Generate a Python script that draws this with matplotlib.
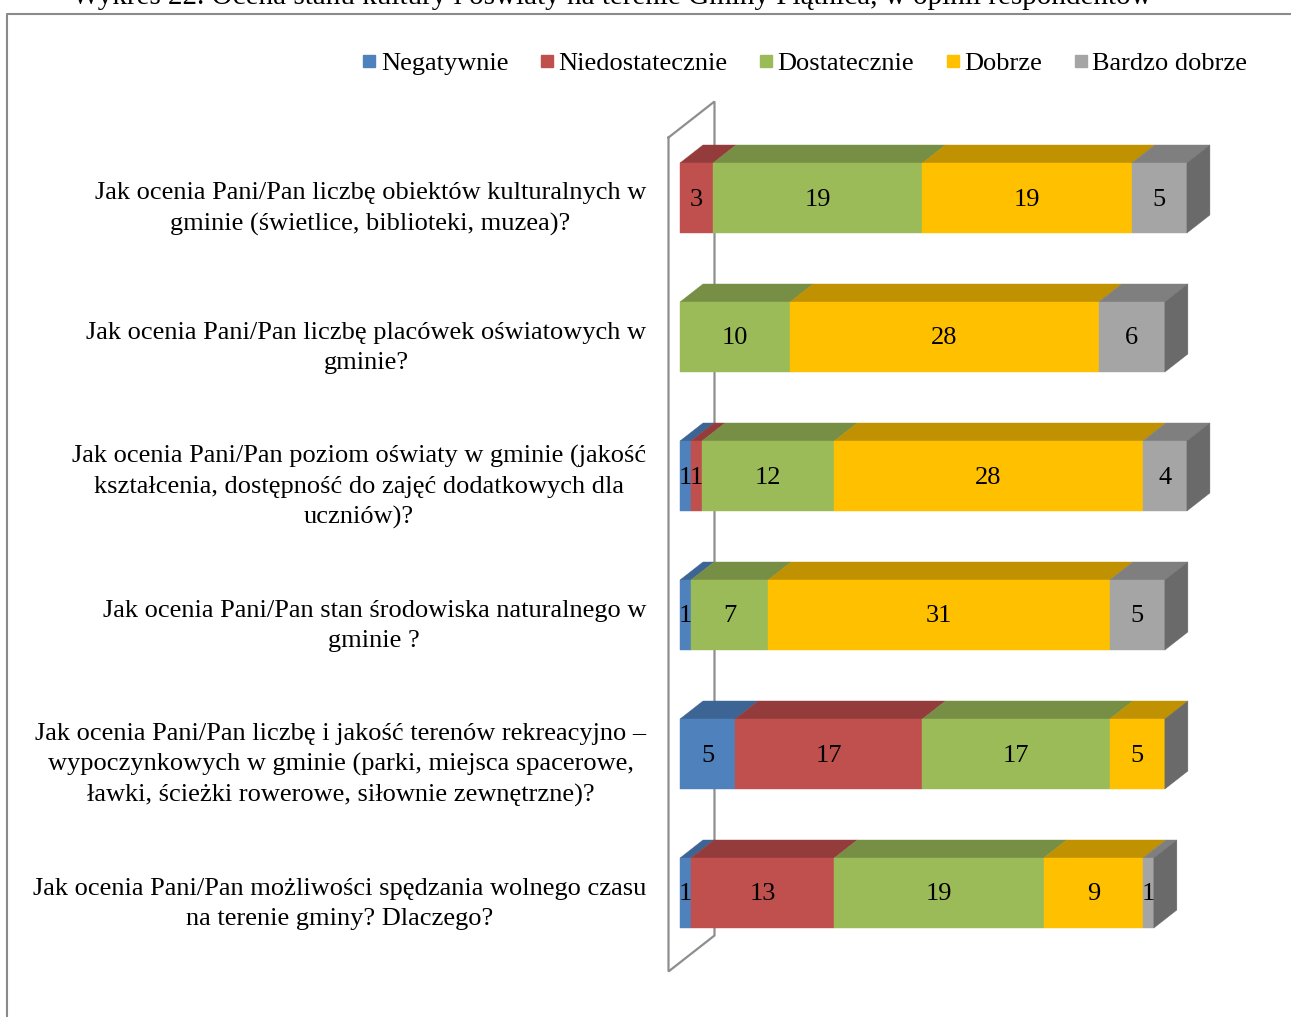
import numpy as np
import matplotlib
matplotlib.use("Agg")
import matplotlib.pyplot as plt
from matplotlib.patches import Polygon, Rectangle
from matplotlib.lines import Line2D

plt.rcParams["font.family"] = ["Liberation Serif", "DejaVu Serif"]

title = "Wykres 22. Ocena stanu kultury i oświaty na terenie Gminy Piątnica, w opinii respondentów"
questions = [
    "Jak ocenia Pani/Pan liczbę obiektów kulturalnych w\ngminie (świetlice, biblioteki, muzea)?",
    "Jak ocenia Pani/Pan liczbę placówek oświatowych w\ngminie?",
    "Jak ocenia Pani/Pan poziom oświaty w gminie (jakość\nkształcenia, dostępność do zajęć dodatkowych dla\nuczniów)?",
    "Jak ocenia Pani/Pan stan środowiska naturalnego w\ngminie ?",
    "Jak ocenia Pani/Pan liczbę i jakość terenów rekreacyjno –\nwypoczynkowych w gminie (parki, miejsca spacerowe,\nławki, ścieżki rowerowe, siłownie zewnętrzne)?",
    "Jak ocenia Pani/Pan możliwości spędzania wolnego czasu\nna terenie gminy? Dlaczego?",
]
series = ["Negatywnie", "Niedostatecznie", "Dostatecznie", "Dobrze", "Bardzo dobrze"]
negatywnie = [0, 0, 1, 1, 5, 1]
niedostatecznie = [3, 0, 1, 0, 17, 13]
dostatecznie = [19, 10, 12, 7, 17, 19]
dobrze = [19, 28, 28, 31, 5, 9]
bardzo_dobrze = [5, 6, 4, 5, 0, 1]

front_colors = ["#4F81BD", "#C0504D", "#9BBB59", "#FFC000", "#A5A5A5"]
top_colors = ["#3C6494", "#943C3B", "#778E45", "#C09100", "#7F7F7F"]
side_colors = ["#2F4F75", "#7A302F", "#5F7237", "#9A7400", "#6A6A6A"]

values = np.array([negatywnie, niedostatecznie, dostatecznie, dobrze, bardzo_dobrze])

W, H = 1291, 1017
fig = plt.figure(figsize=(W / 100, H / 100), dpi=100)
ax = fig.add_axes([0, 0, 1, 1])

# scale: px per value unit and per category row
ux, uy = 11.02, 139.0
x0_px, y0_px = 680, 198
ax.set_xlim(-x0_px / ux, (W - x0_px) / ux)
ax.set_ylim((H - y0_px) / uy, -y0_px / uy)
ax.axis("off")

dx, dy = 23 / ux, -18 / uy      # depth of a bar
h = 70 / uy                      # bar thickness
fs = 19

# back wall (depth from -0.5 to 1.5 bar depths)
n = len(questions)
wx = [-0.5 * dx, 1.5 * dx, 1.5 * dx, -0.5 * dx, -0.5 * dx]
wy0, wy1 = -0.5 - 0.5 * dy, n - 0.5 - 0.5 * dy
wyy = [wy0, wy0 + 2 * dy, wy1 + 2 * dy, wy1, wy0]
ax.plot(wx, wyy, color="#8E8E8E", lw=1.6, zorder=1, solid_joinstyle="miter")

for i in range(n):
    top = i - h / 2
    left = 0
    for k in range(len(series)):
        v = values[k, i]
        if v > 0:
            ax.add_patch(Polygon([(left, top), (left + v, top), (left + v + dx, top + dy),
                                  (left + dx, top + dy)], closed=True,
                                 facecolor=top_colors[k], edgecolor=top_colors[k], lw=0.3, zorder=2))
            ax.add_patch(Rectangle((left, top), v, h, facecolor=front_colors[k],
                                   edgecolor=front_colors[k], lw=0.3, zorder=3))
            ax.text(left + v / 2, i + 1.5 / uy, str(v), ha="center", va="center",
                    fontsize=fs, zorder=5)
        left += v
    # end face of the stack (last series colour, as in Excel)
    ax.add_patch(Polygon([(left, top), (left + dx, top + dy), (left + dx, top + h + dy),
                          (left, top + h)], closed=True, facecolor=side_colors[-1],
                         edgecolor=side_colors[-1], lw=0.3, zorder=3))
    ax.text(-34 / ux, i + 11 / uy, questions[i], ha="right", va="center",
            multialignment="center", fontsize=fs, linespacing=1.45)

handles = [Line2D([], [], marker="s", ls="", markersize=9, color=c) for c in front_colors]
fig.legend(handles, series, loc="upper right", bbox_to_anchor=(1258 / W, 1 - 41 / H),
           ncol=5, frameon=False, fontsize=fs, handlelength=0.5, handletextpad=0.2,
           columnspacing=1.2, borderaxespad=0)

# outer frame and cut title
fig.add_artist(Line2D([7 / W, 7 / W, 1], [0, 1 - 14 / H, 1 - 14 / H],
                      transform=fig.transFigure, color="#8A8A8A", lw=1.5))
fig.text(612 / W, 1 - 4 / H, title, ha="center", va="baseline", fontsize=21)

fig.savefig("out.png", dpi=100)
